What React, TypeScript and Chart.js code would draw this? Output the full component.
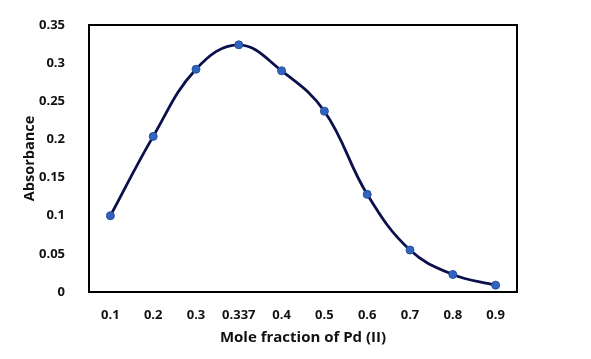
import React, { useEffect, useRef } from "react";
import { Chart, registerables } from "chart.js";

Chart.register(...registerables);

const categories = ["0.1", "0.2", "0.3", "0.337", "0.4", "0.5", "0.6", "0.7", "0.8", "0.9"];
const absorbance = [0.1, 0.204, 0.292, 0.324, 0.29, 0.237, 0.128, 0.055, 0.023, 0.009];
const yTicks = [0, 0.05, 0.1, 0.15, 0.2, 0.25, 0.3, 0.35];

const boxPlugin = {
  id: "plotBox",
  afterDatasetsDraw(chart: any) {
    const { ctx, chartArea } = chart;
    ctx.save();
    ctx.strokeStyle = "#000000";
    ctx.lineWidth = 2;
    ctx.strokeRect(chartArea.left, chartArea.top, chartArea.right - chartArea.left, chartArea.bottom - chartArea.top);
    ctx.restore();
  },
};

export default function App() {
  const ref = useRef<HTMLCanvasElement | null>(null);
  useEffect(() => {
    if (!ref.current) return;
    const chart = new Chart(ref.current, {
      type: "line",
      data: {
        labels: categories,
        datasets: [
          {
            data: absorbance,
            borderColor: "#0b0f4c",
            borderWidth: 2.8,
            tension: 0.4,
            pointRadius: 4,
            pointBackgroundColor: "#3264bf",
            pointBorderColor: "#24519f",
            pointBorderWidth: 1,
            fill: false,
          },
        ],
      },
      options: {
        responsive: false,
        animation: false,
        layout: { padding: { left: 0, top: 25, right: 74, bottom: 0 } },
        plugins: { legend: { display: false }, tooltip: { enabled: false } },
        scales: {
          x: {
            type: "category",
            offset: true,
            grid: { display: false },
            border: { display: false },
            ticks: {
              color: "#111111",
              padding: 7,
              maxRotation: 0,
              autoSkip: false,
              font: { family: "Open Sans", size: 13, weight: "bold" },
            },
            title: {
              display: true,
              text: "Mole fraction of Pd (II)",
              color: "#111111",
              padding: { top: 0, bottom: 12 },
              font: { family: "Open Sans", size: 15, weight: "bold" },
            },
            afterFit(scale: any) {
              scale.height = 67;
            },
          },
          y: {
            min: 0,
            max: 0.35,
            grid: { display: false },
            border: { display: false },
            afterBuildTicks(scale: any) {
              scale.ticks = yTicks.map((v) => ({ value: v }));
            },
            ticks: {
              color: "#111111",
              padding: 16,
              font: { family: "Open Sans", size: 13, weight: "bold" },
              callback: (v: any) => String(Number(v)),
            },
            title: {
              display: true,
              text: "Absorbance",
              color: "#111111",
              padding: { top: 21, bottom: 0 },
              font: { family: "Open Sans", size: 14.5, weight: "bold" },
            },
            afterFit(scale: any) {
              scale.width = 89;
            },
          },
        },
      },
      plugins: [boxPlugin],
    });
    return () => chart.destroy();
  }, []);
  return (
    <div style={{ position: "absolute", left: 0, top: 0, width: 591, height: 359, background: "#ffffff" }}>
      <canvas ref={ref} width={591} height={359} />
    </div>
  );
}
